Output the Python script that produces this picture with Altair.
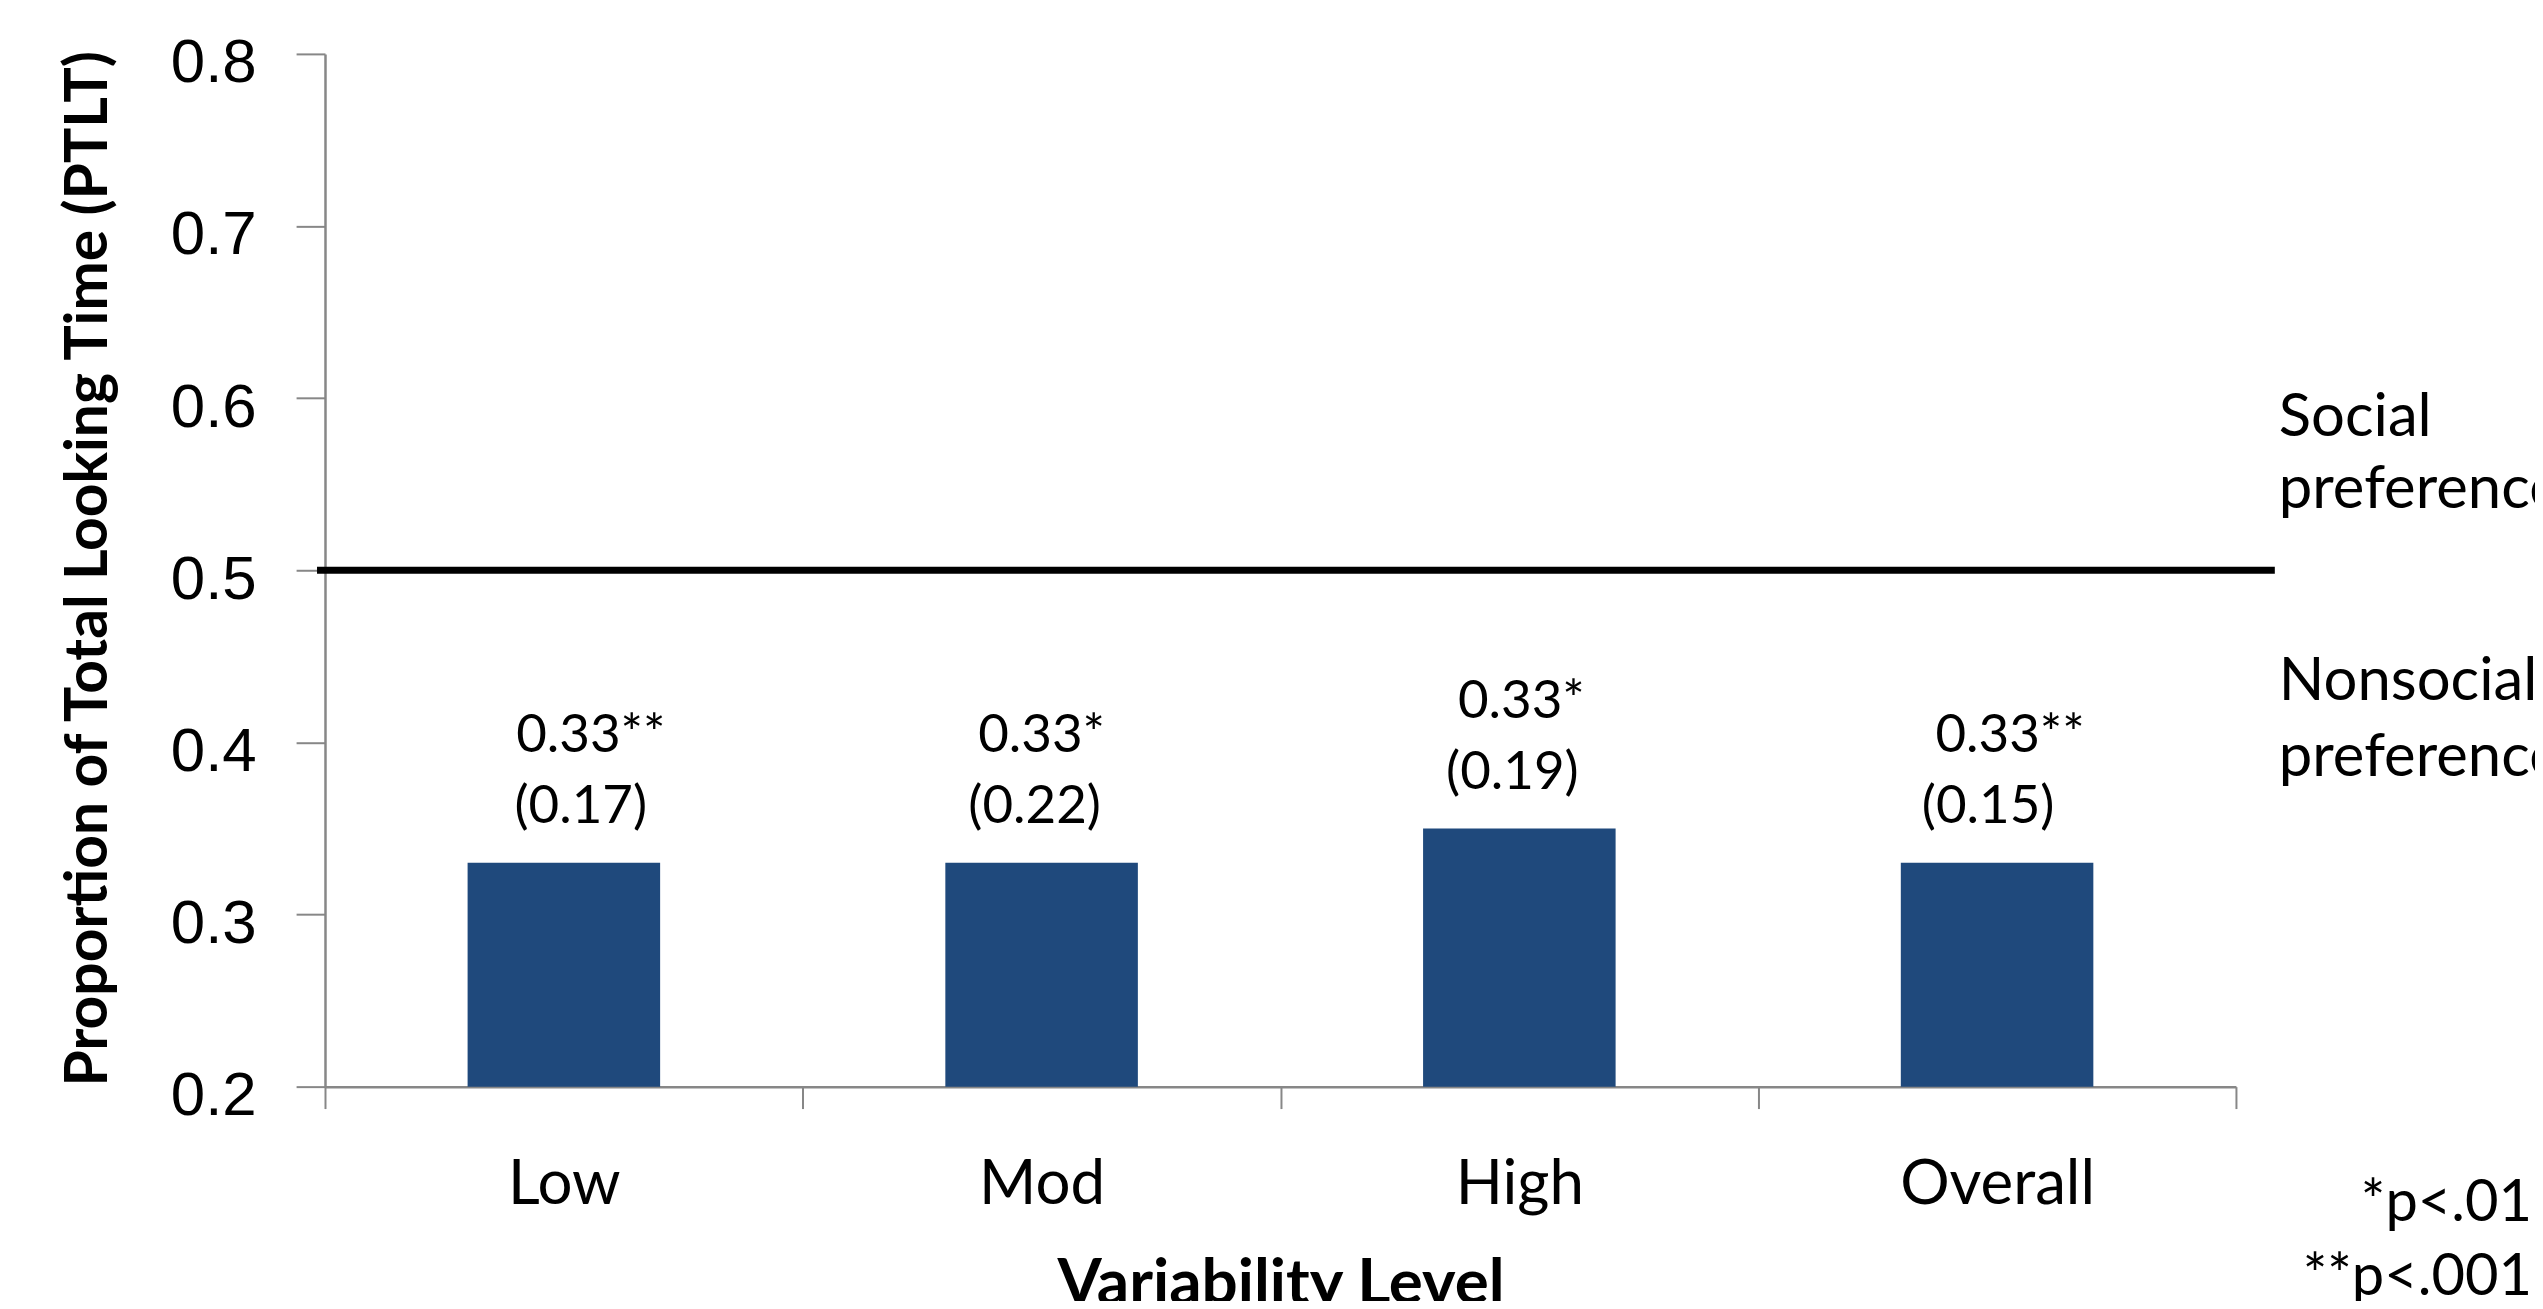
import altair as alt
import pandas as pd

# ---- data ----
categories = ["Low", "Mod", "High", "Overall"]
values = [0.33, 0.33, 0.35, 0.33]
mean_labels = ["0.33**", "0.33*", "0.33*", "0.33**"]
sd_labels = ["(0.17)", "(0.22)", "(0.19)", "(0.15)"]
y_ticks = [0.2, 0.3, 0.4, 0.5, 0.6, 0.7, 0.8]
threshold = 0.5
upper_note = ["Social", "preference"]
lower_note = ["Nonsocial", "preference"]
footnote = ["*p<.01", "**p<.001"]

# small horizontal nudges of the annotation texts (pixels, layout only)
mean_dx = [27, 0, 2, 13]
sd_dx = [17, -7, -7, -9]

W, H = 1917, 1036
BAND = W / len(categories)

df = pd.DataFrame({
    "cat": categories,
    "value": values,
    "mean": mean_labels,
    "sd": sd_labels,
    "mdx": mean_dx,
    "sdx": sd_dx,
})
one = pd.DataFrame({"k": [0]})

AX = "#878787"
FONT = "Lato"

xscale = alt.Scale(paddingInner=0, paddingOuter=0)
yscale = alt.Scale(domain=[0.2, 0.8], zero=False, nice=False)

x_axis = alt.Axis(
    title="Variability Level", labelAngle=0, tickBand="extent", grid=False,
    domainColor=AX, domainWidth=2.5, tickColor=AX, tickWidth=2, tickSize=22,
    labelPadding=46, labelFont=FONT, labelFontSize=62, labelColor="black",
    labelLimit=600,
    titleFont=FONT, titleFontWeight="bold", titleFontSize=64, titleColor="black",
    titleY=218, titleBaseline="alphabetic",
)
y_axis = alt.Axis(
    title="Proportion of Total Looking Time (PTLT)", values=y_ticks, format=".1f",
    grid=False, domainColor=AX, domainWidth=2.5, tickColor=AX, tickWidth=2,
    tickSize=29, labelPadding=40, labelFont="Liberation Sans", labelFontSize=62,
    labelColor="black", labelOffset=9,
    titleFont=FONT, titleFontWeight="bold", titleFontSize=59, titleColor="black",
    titleAngle=270, titleX=-219, titleY=516, titleAlign="center",
    titleBaseline="alphabetic", titleLimit=2000,
)

base = alt.Chart(df)

bars = base.mark_bar(color="#1F497C", width=alt.RelativeBandSize(0.403)).encode(
    x=alt.X("cat:N", sort=categories, scale=xscale, axis=x_axis),
    y=alt.Y("value:Q", scale=yscale, axis=y_axis),
    y2=alt.datum(0.2),
)

mean_text = base.transform_calculate(
    off=f"datum.mdx + {BAND / 2}"
).mark_text(font=FONT, fontSize=53, baseline="middle", dy=-127, color="black").encode(
    x=alt.X("cat:N", sort=categories, scale=xscale, axis=x_axis),
    xOffset=alt.XOffset("off:Q", scale=None),
    y=alt.Y("value:Q", scale=yscale, axis=y_axis),
    text="mean:N",
)
sd_text = base.transform_calculate(
    off=f"datum.sdx + {BAND / 2}"
).mark_text(font=FONT, fontSize=53, baseline="middle", dy=-56, color="black").encode(
    x=alt.X("cat:N", sort=categories, scale=xscale, axis=x_axis),
    xOffset=alt.XOffset("off:Q", scale=None),
    y=alt.Y("value:Q", scale=yscale, axis=y_axis),
    text="sd:N",
)

rule = alt.Chart(one).mark_rule(color="black", strokeWidth=7).encode(
    y=alt.datum(threshold),
    x=alt.value(-8),
    x2=alt.value(1956),
)

note_up = alt.Chart(one).mark_text(
    text=upper_note, font=FONT, fontSize=60, align="left", baseline="alphabetic",
    lineHeight=73, color="black",
).encode(x=alt.value(1960), y=alt.value(383))

note_down = alt.Chart(one).mark_text(
    text=lower_note, font=FONT, fontSize=60, align="left", baseline="alphabetic",
    lineHeight=76, color="black",
).encode(x=alt.value(1960), y=alt.value(648))

foot = alt.Chart(one).mark_text(
    text=footnote, font=FONT, fontSize=58, align="right", baseline="alphabetic",
    lineHeight=74, color="black",
).encode(x=alt.value(2214), y=alt.value(1171))

chart = alt.layer(bars, rule, mean_text, sd_text, note_up, note_down, foot).properties(
    width=W, height=H,
    padding={"left": 318, "top": 44, "right": 300, "bottom": 213},
    autosize=alt.AutoSizeParams(type="none"),
    background="white",
).configure_view(stroke="transparent", strokeWidth=0)

chart.save("out.html", embed_options={"renderer": "svg", "actions": False})
